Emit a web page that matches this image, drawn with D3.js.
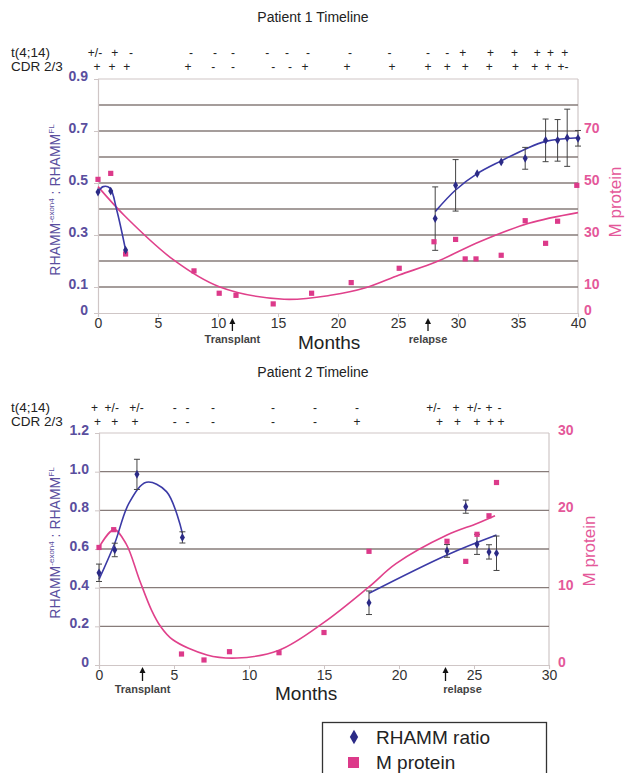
<!DOCTYPE html>
<html><head><meta charset="utf-8">
<script src="https://cdn.jsdelivr.net/npm/d3@7"></script>
<style>
html,body{margin:0;padding:0;background:#fff;}
svg{display:block;font-family:"Liberation Sans",Arial,sans-serif;}
</style></head>
<body>
<svg id="chart" width="627" height="773"></svg>
<script>
// ---------- DATA ----------
// Patient 1
const p1Title = "Patient 1 Timeline";
const p1TMonths = [-0.25,1.4,2.75,7.75,9.75,11.25,14.1,15.75,17.5,21,24.3,27.5,29.1,30.4,32.7,34.7,36.6,37.7,38.9];
const p1TLabels = ["+/-","+","-","-","-","-","-","-","-","-","-","-","-","+","+","+","+","+","+"];
const p1CMonths = [-0.08,1.17,2.4,7.5,9.6,11.25,14.6,16,17.25,20.75,24.5,27.5,29.1,30.6,32.6,34.8,36.4,37.5,38.75];
const p1CLabels = ["+","+","+","+","-","-","-","-","+","+","+","+","+","+","+","+","+","+","+-"];
const p1RMonths = [0,1.06,2.3,28.1,29.8,31.6,33.6,35.6,37.3,38.3,39.1,40.0];
const p1Rhamm   = [0.465,0.469,0.242,0.363,0.491,0.536,0.581,0.595,0.664,0.664,0.674,0.672];
const p1RErr    = [0,0,0,0.122,0.099,0,0,0.042,0.082,0.08,0.11,0.03];
const p1MMonths = [0,1.06,2.3,8.0,10.1,11.5,14.6,17.8,21.1,25.1,28.0,29.8,30.6,31.5,33.6,35.6,37.3,38.3,39.9];
const p1MProtein= [51.4,53.7,22.7,16.2,7.6,6.8,3.5,7.6,11.7,17.2,27.4,28.3,20.8,20.8,22.2,35.5,26.8,35.3,49.1];
const p1RTrendAX = [0,0.44,1.0,1.56,2.3];
const p1RTrendAY = [0.465,0.486,0.48,0.396,0.242];
const p1RTrendBX = [28.1,29.8,31.6,33.6,35.6,37.3,40];
const p1RTrendBY = [0.39,0.473,0.536,0.585,0.63,0.66,0.674];
const p1MTrendX = [0,2.3,6.3,10.1,15.5,19.5,22.3,25.1,28.2,31.8,35.9,40];
const p1MTrendY = [48.6,37,20.4,10.1,5.3,6.9,9.7,14.6,19.7,27.4,34.5,38.6];
const p1XTicks = [0,5,10,15,20,25,30,35,40];
const p1YTicks = [0,0.1,0.3,0.5,0.7,0.9];
const p1Grid   = [0.1,0.2,0.3,0.4,0.5,0.6,0.7,0.8];
const p1MTicks = [0,10,30,50,70];
const p1Events = [{label:"Transplant", month:11.2}, {label:"relapse", month:27.5}];

// Patient 2
const p2Title = "Patient 2 Timeline";
const p2TMonths = [-0.3,0.85,2.5,5.05,5.9,7.6,11.6,14.4,17.2,22.3,23.8,25.0,26.0,26.7];
const p2TLabels = ["+","+/-","+/-","-","-","-","-","-","-","+/-","+","+/-","+","-"];
const p2CMonths = [-0.1,1.05,2.4,5.05,5.9,7.6,11.6,14.4,17.2,22.7,23.9,25.2,26.1,26.8];
const p2CLabels = ["+","+","+","-","-","-","-","-","+","+","+","+","+","+"];
const p2RMonths = [0,1.05,2.53,5.56,18.0,23.2,24.45,25.2,26.0,26.5];
const p2Rhamm   = [0.477,0.595,0.986,0.66,0.322,0.59,0.819,0.624,0.585,0.578];
const p2RErr    = [0.045,0.035,0.078,0.029,0.061,0.033,0.034,0.052,0.037,0.089];
const p2MMonths = [0,0.98,5.5,7.0,8.7,12.0,15.0,18.0,23.2,24.45,25.2,26.0,26.5];
const p2MProtein= [15.2,17.5,1.42,0.65,1.72,1.59,4.2,14.7,16.0,13.4,16.9,19.3,23.6];
const p2RTrendAX = [0,1.05,2.0,3.16,4.5,5.56];
const p2RTrendAY = [0.443,0.63,0.837,0.945,0.897,0.681];
const p2RTrendBX = [18.0,23.2,26.5];
const p2RTrendBY = [0.371,0.569,0.672];
const p2MTrendX = [0,1.0,1.8,2.7,3.5,4.1,4.9,7.2,9.2,12.0,15.0,18.0,19.8,23.2,25.2,26.4];
const p2MTrendY = [15.2,17.5,15.7,11.0,7.1,5.0,3.3,1.3,0.9,1.9,5.5,10.1,13.1,16.8,18.3,19.3];
const p2XTicks = [0,5,10,15,20,25,30];
const p2YTicks = [0,0.2,0.4,0.6,0.8,1.0,1.2];
const p2Grid   = [0.2,0.4,0.6,0.8,1.0];
const p2MTicks = [0,10,20,30];
const p2Events = [{label:"Transplant", month:2.9, dx:0}, {label:"relapse", month:23.1, dx:17}];

const legendItems = ["RHAMM ratio","M protein"];

// ---------- STYLE ----------
const BLUE_PT = "#2b2a86", BLUE_LN = "#3b3aa6", PINK = "#e0418b", PINK_PT = "#dc3a8a";
const LEFT_TXT = "#5a4e9e", RIGHT_TXT = "#e4589a", GRID = "#877c7a", AXIS = "#cfc6c6";

const svg = d3.select("#chart");
const zip = (a,b) => a.map((v,i)=>[v,b[i]]);

function drawPanel(cfg){
  const x = d3.scaleLinear().domain(cfg.xDomain).range(cfg.xRange);
  const y = d3.scaleLinear().domain([0,cfg.yMax]).range([cfg.yBottom,cfg.yTop]);
  const m = d3.scaleLinear().domain([0,cfg.mMax]).range([cfg.yBottom,cfg.yTop]);
  const g = svg.append("g");
  const [x0,x1] = cfg.xRange;

  // title
  g.append("text").attr("x",313).attr("y",cfg.titleY).attr("text-anchor","middle")
    .attr("font-size",14).attr("fill","#222").text(cfg.title);
  // row labels
  g.append("text").attr("x",11).attr("y",cfg.rowY[0]).attr("font-size",13.5).attr("fill","#222").text("t(4;14)");
  g.append("text").attr("x",11).attr("y",cfg.rowY[1]).attr("font-size",13.5).attr("fill","#222").text("CDR 2/3");
  g.selectAll(null).data(zip(cfg.tMonths,cfg.tLabels)).join("text")
    .attr("x",d=>x(d[0])).attr("y",cfg.rowY[0]).attr("text-anchor","middle")
    .attr("font-size",12).attr("fill","#222").text(d=>d[1]);
  g.selectAll(null).data(zip(cfg.cMonths,cfg.cLabels)).join("text")
    .attr("x",d=>x(d[0])).attr("y",cfg.rowY[1]).attr("text-anchor","middle")
    .attr("font-size",12).attr("fill","#222").text(d=>d[1]);

  // frame
  g.append("line").attr("x1",x0).attr("x2",x1).attr("y1",cfg.yTop).attr("y2",cfg.yTop).attr("stroke",AXIS).attr("stroke-width",1.2);
  g.append("line").attr("x1",x1).attr("x2",x1).attr("y1",cfg.yTop).attr("y2",cfg.yBottom).attr("stroke",AXIS).attr("stroke-width",1.2);
  // grid
  g.selectAll(null).data(cfg.grid).join("line")
    .attr("x1",x0).attr("x2",x1).attr("y1",d=>y(d)).attr("y2",d=>y(d))
    .attr("stroke",GRID).attr("stroke-width",1.4);

  // axes
  const xAxis = d3.axisBottom(x).tickValues(cfg.xTicks).tickSize(4).tickFormat(d=>d);
  const xa = g.append("g").attr("transform",`translate(0,${cfg.yBottom})`).call(xAxis);
  xa.select(".domain").attr("stroke",AXIS).attr("stroke-width",1.2);
  xa.selectAll(".tick line").attr("stroke",AXIS);
  xa.selectAll(".tick text").attr("font-size",14).attr("fill","#333").attr("dy",cfg.xTickDy)
    .attr("font-family","Liberation Sans, Arial, sans-serif");

  const yAxis = d3.axisLeft(y).tickValues(cfg.yTicks).tickSize(4)
    .tickFormat(d=> d===0 ? "0" : d3.format(".1f")(d));
  const ya = g.append("g").attr("transform",`translate(${x0},0)`).call(yAxis);
  ya.select(".domain").attr("stroke",AXIS).attr("stroke-width",1.2);
  ya.selectAll(".tick line").attr("stroke",AXIS);
  ya.selectAll(".tick text").attr("font-size",14).attr("font-weight","bold").attr("fill",LEFT_TXT)
    .attr("x",-10).attr("dy","0.1em").attr("font-family","Liberation Sans, Arial, sans-serif");

  const mAxis = d3.axisRight(m).tickValues(cfg.mTicks).tickSize(0);
  const ma = g.append("g").attr("transform",`translate(${x1},0)`).call(mAxis);
  ma.select(".domain").remove();
  ma.selectAll(".tick text").attr("font-size",14).attr("font-weight","bold").attr("fill",RIGHT_TXT)
    .attr("x",cfg.mLabelDx).attr("dy","0.1em").attr("font-family","Liberation Sans, Arial, sans-serif");

  // axis titles
  const lt = g.append("text").attr("transform",`translate(${cfg.leftTitleX},${cfg.leftTitleY}) rotate(-90)`)
    .attr("text-anchor","middle").attr("font-size",14).attr("fill",LEFT_TXT);
  lt.append("tspan").text("RHAMM");
  lt.append("tspan").attr("dy",-6).attr("font-size",8).text("-exon4");
  lt.append("tspan").attr("dy",6).text(" : RHAMM");
  lt.append("tspan").attr("dy",-6).attr("font-size",8).text("FL");
  g.append("text").attr("transform",`translate(${cfg.rightTitleX},${cfg.rightTitleY}) rotate(-90)`)
    .attr("text-anchor","middle").attr("font-size",17).attr("fill",RIGHT_TXT).text("M protein");
  g.append("text").attr("x",cfg.monthsX).attr("y",cfg.monthsY).attr("font-size",19).attr("fill","#222").text("Months");

  // events
  cfg.events.forEach(ev=>{
    const ex = x(ev.month);
    g.append("line").attr("x1",ex).attr("x2",ex).attr("y1",cfg.arrowY[1]).attr("y2",cfg.arrowY[0]+3)
      .attr("stroke","#111").attr("stroke-width",1.3);
    g.append("path").attr("d",`M${ex-3},${cfg.arrowY[0]+5}L${ex},${cfg.arrowY[0]-1}L${ex+3},${cfg.arrowY[0]+5}Z`).attr("fill","#111");
    g.append("text").attr("x",ex+(ev.dx||0)).attr("y",cfg.eventY).attr("text-anchor","middle")
      .attr("font-size",11).attr("font-weight","bold").attr("fill","#444").text(ev.label);
  });

  const curve = d3.curveCatmullRom.alpha(0.5);
  // M protein trend
  g.append("path").datum(zip(cfg.mTrendX,cfg.mTrendY))
    .attr("d",d3.line().x(d=>x(d[0])).y(d=>m(d[1])).curve(curve))
    .attr("fill","none").attr("stroke",PINK).attr("stroke-width",1.6);
  // RHAMM trends
  cfg.rTrends.forEach(t=>{
    g.append("path").datum(zip(t[0],t[1]))
      .attr("d",d3.line().x(d=>x(d[0])).y(d=>y(d[1])).curve(curve))
      .attr("fill","none").attr("stroke",BLUE_LN).attr("stroke-width",1.6);
  });
  // error bars
  const eb = cfg.rMonths.map((mo,i)=>({mo,v:cfg.rhamm[i],e:cfg.rErr[i]})).filter(d=>d.e>0);
  eb.forEach(d=>{
    const ex=x(d.mo), yt=y(d.v+d.e), yb=y(d.v-d.e);
    g.append("line").attr("x1",ex).attr("x2",ex).attr("y1",yt).attr("y2",yb).attr("stroke","#444").attr("stroke-width",1);
    [yt,yb].forEach(yy=>g.append("line").attr("x1",ex-3).attr("x2",ex+3).attr("y1",yy).attr("y2",yy).attr("stroke","#444").attr("stroke-width",1));
  });
  // M protein points
  g.selectAll(null).data(zip(cfg.mMonths,cfg.mProtein)).join("rect")
    .attr("x",d=>x(d[0])-2.6).attr("y",d=>m(d[1])-2.6).attr("width",5.2).attr("height",5.2)
    .attr("fill",PINK_PT);
  // RHAMM points
  g.selectAll(null).data(zip(cfg.rMonths,cfg.rhamm)).join("path")
    .attr("d",d3.symbol(d3.symbolDiamond,22)())
    .attr("transform",d=>`translate(${x(d[0])},${y(d[1])})`).attr("fill",BLUE_PT);
}

drawPanel({
  title:p1Title, titleY:22, rowY:[57,71],
  xDomain:[0,40], xRange:[98,578], yTop:79, yBottom:313, yMax:0.9, mMax:90,
  tMonths:p1TMonths, tLabels:p1TLabels, cMonths:p1CMonths, cLabels:p1CLabels,
  grid:p1Grid, xTicks:p1XTicks, yTicks:p1YTicks, mTicks:p1MTicks, mLabelDx:6,
  leftTitleX:60, leftTitleY:200, rightTitleX:621, rightTitleY:202, xTickDy:"0.55em",
  monthsX:298, monthsY:349, events:p1Events, arrowY:[319,331], eventY:343,
  mTrendX:p1MTrendX, mTrendY:p1MTrendY,
  rTrends:[[p1RTrendAX,p1RTrendAY],[p1RTrendBX,p1RTrendBY]],
  rMonths:p1RMonths, rhamm:p1Rhamm, rErr:p1RErr, mMonths:p1MMonths, mProtein:p1MProtein
});

drawPanel({
  title:p2Title, titleY:377, rowY:[412,426],
  xDomain:[0,30], xRange:[99,549], yTop:433, yBottom:665, yMax:1.2, mMax:30,
  tMonths:p2TMonths, tLabels:p2TLabels, cMonths:p2CMonths, cLabels:p2CLabels,
  grid:p2Grid, xTicks:p2XTicks, yTicks:p2YTicks, mTicks:p2MTicks, mLabelDx:9,
  leftTitleX:60, leftTitleY:543, rightTitleX:595, rightTitleY:551, xTickDy:"0.6em",
  monthsX:275, monthsY:700, events:p2Events, arrowY:[668,681], eventY:693,
  mTrendX:p2MTrendX, mTrendY:p2MTrendY,
  rTrends:[[p2RTrendAX,p2RTrendAY],[p2RTrendBX,p2RTrendBY]],
  rMonths:p2RMonths, rhamm:p2Rhamm, rErr:p2RErr, mMonths:p2MMonths, mProtein:p2MProtein
});

// legend
const lg = svg.append("g");
lg.append("rect").attr("x",322.5).attr("y",722.5).attr("width",224).attr("height",60)
  .attr("fill","#fff").attr("stroke","#333").attr("stroke-width",1.3);
lg.append("path").attr("d",d3.symbol(d3.symbolDiamond,60)()).attr("transform","translate(354,737)").attr("fill",BLUE_PT);
lg.append("rect").attr("x",348).attr("y",757).attr("width",11).attr("height",11).attr("fill",PINK_PT);
lg.selectAll(null).data(legendItems).join("text")
  .attr("x",376).attr("y",(d,i)=>744+i*25).attr("font-size",19).attr("fill","#222").text(d=>d);
</script>
</body></html>
